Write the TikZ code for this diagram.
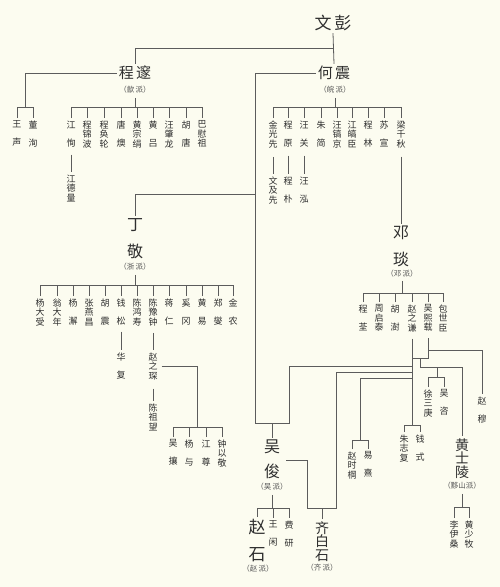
\documentclass[tikz,border=0pt]{standalone}
\usepackage{fontspec}
\newfontfamily\cjk{Noto Sans CJK SC}
\definecolor{bgc}{HTML}{FCFCF0}
\definecolor{linec}{HTML}{5C5C5C}
\definecolor{txtc}{HTML}{2E2E2E}
\definecolor{paic}{HTML}{555555}
\newcommand\vtw[2]{#1\\[8.5pt]#2}
\newcommand\vth[3]{#1\\#2\\#3}
\tikzset{
  ln/.style={draw=linec,line width=0.8pt},
  sm/.style={font=\cjk\fontsize{9}{9.5}\selectfont,text=txtc,align=center,inner xsep=0pt,inner ysep=2.5pt,anchor=north},
  mid/.style={font=\cjk\fontsize{15}{15}\selectfont,text=txtc,inner sep=2pt},
  big/.style={font=\cjk\fontsize{17}{17}\selectfont,text=txtc,inner sep=2pt},
  vbig/.style={font=\cjk\fontsize{16}{27}\selectfont,text=txtc,align=center,inner sep=2pt},
  vbigb/.style={font=\cjk\fontsize{16}{25}\selectfont,text=txtc,align=center,inner sep=2pt},
  vmid/.style={font=\cjk\fontsize{14}{13.5}\selectfont,text=txtc,align=center,inner sep=2pt},
  pai/.style={font=\cjk\fontsize{7.5}{7.5}\selectfont,text=paic,inner sep=1pt},
}
\begin{document}
\lineskiplimit=-20pt
\lineskip=0pt
\begin{tikzpicture}[x=1pt,y=-1pt]
\fill[bgc] (0,0) rectangle (500,587);
\useasboundingbox (0,0) rectangle (500,587);

% ---------- top ----------
\node[big] (wp) at (333,23) {文\,彭};
\node[mid] (cs) at (135,73) {程\,邃};
\node[mid] (hz) at (334,73) {何\,震};
\node[pai] (csp) at (135,90) {（歙\,派）};
\node[pai] (hzp) at (335,90) {（皖\,派）};
\coordinate (j0) at (334,48);
\coordinate (cbar) at (0,107);
\draw[ln] (wp.south) -- (hz.north);
\draw[ln] (j0) -| (cs.north);

% 程邃 left pair
\node[sm] (wangs) at (17,118) {\vtw{王}{声}};
\node[sm] (dongx) at (33,118) {\vtw{董}{洵}};
\draw[ln] (cs.west) -| (25,107);
\draw[ln] (wangs.north) |- (dongx.north |- cbar) -- (dongx.north);

% 程邃 right row
\foreach \xx/\nm/\tx in {71/jxun/{\vtw{江}{恂}},87/cjb/{\vth{程}{锦}{波}},104/chl/{\vth{程}{奂}{轮}},121/tangy/{\vtw{唐}{燠}},137/hzj/{\vth{黄}{宗}{绢}},153/hlv/{\vtw{黄}{吕}},169/wzl/{\vth{汪}{肇}{龙}},186/htang/{\vtw{胡}{唐}},202/bwz/{\vth{巴}{慰}{祖}}}{
  \node[sm] (\nm) at (\xx,118) {\tx};
  \draw[ln] (\nm.north) -- (\nm.north |- cbar);
}
\draw[ln] (jxun.north |- cbar) -- (bwz.north |- cbar);
\draw[ln] ([yshift=-3pt]csp.south) -- (csp.south |- cbar);
\node[sm] (jdl) at (71,172) {\vth{江}{德}{量}};
\draw[ln] ([yshift=-5pt]jxun.south) -- (jdl.north);

% 何震 row
\foreach \xx/\nm/\tx in {273/jgx/{\vth{金}{光}{先}},288/cyuan/{\vtw{程}{原}},304/wguan/{\vtw{汪}{关}},321/zjian/{\vtw{朱}{简}},337/whj/{\vth{汪}{镐}{京}},352/jhc/{\vth{江}{皜}{臣}},368/clin/{\vtw{程}{林}},384/sxuan/{\vtw{苏}{宣}},401/lqq/{\vth{梁}{千}{秋}}}{
  \node[sm] (\nm) at (\xx,118) {\tx};
  \draw[ln] (\nm.north) -- (\nm.north |- cbar);
}
\draw[ln] (jgx.north |- cbar) -- (lqq.north |- cbar);
\draw[ln] ([yshift=-3pt]hzp.south) -- (hzp.south |- cbar);
\node[sm] (wjx) at (273,174) {\vth{文}{及}{先}};
\node[sm] (cpu) at (288,174) {\vtw{程}{朴}};
\node[sm] (whong) at (304,174) {\vtw{汪}{泓}};
\draw[ln] ([yshift=-6pt]jgx.south) -- (wjx.north);
\draw[ln] ([yshift=-6pt]cyuan.south) -- (cpu.north);
\draw[ln] ([yshift=-6pt]wguan.south) -- (whong.north);

% ---------- 丁敬 ----------
\coordinate (dj0) at (255,194);
\coordinate (hzd) at (255,423);
\node[vbig] (dj) at (135,238.5) {丁\\敬};
\node[pai] (djp) at (135,267) {（浙\,派）};
\draw[ln] (hz.west) -| (hzd);
\draw[ln] (dj0) -| (dj.north);
\coordinate (dbar) at (0,285);
\draw[ln] ([yshift=-3pt]djp.south) -- (djp.south |- dbar);
\foreach \xx/\nm/\tx in {40/ydsh/{\vth{杨}{大}{受}},57/wdn/{\vth{翁}{大}{年}},73/yxie/{\vtw{杨}{澥}},89/zyc/{\vth{张}{燕}{昌}},105/hzhen/{\vtw{胡}{震}},121/qsong/{\vtw{钱}{松}},137/chs/{\vth{陈}{鸿}{寿}},153/cyz/{\vth{陈}{豫}{钟}},169/jren/{\vtw{蒋}{仁}},186/xgang/{\vtw{奚}{冈}},202/hyi/{\vtw{黄}{易}},218/zxie/{\vtw{郑}{燮}},233/jnong/{\vtw{金}{农}}}{
  \node[sm] (\nm) at (\xx,296) {\tx};
  \draw[ln] (\nm.north) -- (\nm.north |- dbar);
}
\draw[ln] (ydsh.north |- dbar) -- (jnong.north |- dbar);
\node[sm] (hfu) at (121,350) {\vtw{华}{复}};
\draw[ln] ([yshift=-4pt]qsong.south) -- (hfu.north);
\node[sm] (zzc) at (153,350) {\vth{赵}{之}{琛}};
\draw[ln] ([yshift=-4pt]cyz.south) -- (zzc.north);
\node[sm] (czw) at (153,401) {\vth{陈}{祖}{望}};
\draw[ln] ([yshift=-6pt]zzc.south) -- (czw.north);
\coordinate (zcbar) at (0,427);
\foreach \xx/\nm/\tx in {173/wrang/{\vtw{吴}{攘}},189/yyu/{\vtw{杨}{与}},206/jzun/{\vtw{江}{尊}},222/zyj/{\vth{钟}{以}{敬}}}{
  \node[sm] (\nm) at (\xx,437) {\tx};
  \draw[ln] (\nm.north) -- (\nm.north |- zcbar);
}
\draw[ln] (wrang.north |- zcbar) -- (zyj.north |- zcbar);
\draw[ln] ([xshift=4pt]zzc.east) -| (197,427);

% ---------- 邓琰 ----------
\node[vbig] (dy) at (401,246.5) {邓\\琰};
\node[pai] (dyp) at (402,274) {（邓\,派）};
\draw[ln] ([yshift=-6pt]lqq.south) -- (dy.north);
\coordinate (ybar) at (0,293);
\draw[ln] ([yshift=-2pt]dyp.south) -- (dyp.south |- ybar);
\foreach \xx/\nm/\tx in {363/cquan/{\vtw{程}{荃}},379/zqt/{\vth{周}{启}{泰}},395/hshu/{\vtw{胡}{澍}},412/zzq/{\vth{赵}{之}{谦}},428/wxz/{\vth{吴}{熙}{载}},443/bsc/{\vth{包}{世}{臣}}}{
  \node[sm] (\nm) at (\xx,302) {\tx};
  \draw[ln] (\nm.north) -- (\nm.north |- ybar);
}
\draw[ln] (cquan.north |- ybar) -- (bsc.north |- ybar);

% 赵之谦 trunk
\coordinate (zbar2) at (0,425);
\draw[ln] ([yshift=-4pt]zzq.south) -- (zzq.south |- zbar2);
\node[sm] (zzf) at (404,432) {\vth{朱}{志}{复}};
\node[sm] (qshi) at (420,432) {\vtw{钱}{式}};
\draw[ln] (zzf.north) |- (qshi.north |- zbar2) -- (qshi.north);

% 吴熙载 -> 赵穆 ; junction
\node[sm] (zmu) at (482,394) {\vtw{赵}{穆}};
\draw[ln] ([yshift=-4pt]wxz.south) -- (428,358) -- (412,358);
\draw[ln] (428,350) -| (zmu.north);

% -> 黄士陵, 徐三庚, 吴咨
\node[vmid] (hsl) at (462,458.5) {黄\\士\\陵};
\node[pai] (hslp) at (462,486) {（黟山派）};
\draw[ln] (420,358) -- (420,367) -| (hsl.north);
\coordinate (xbar) at (0,377);
\node[sm] (xsg) at (428,387) {\vth{徐}{三}{庚}};
\node[sm] (wzi) at (444,387) {\vtw{吴}{咨}};
\draw[ln] (437,367) -- (437,377);
\draw[ln] (xsg.north) |- (wzi.north |- xbar) -- (wzi.north);
\coordinate (hbar) at (0,507);
\node[sm] (lys) at (454,518) {\vth{李}{伊}{桑}};
\node[sm] (hsm) at (469,518) {\vth{黄}{少}{牧}};
\draw[ln] ([yshift=-3pt]hslp.south) -- (hslp.south |- hbar);
\draw[ln] (lys.north) |- (hsm.north |- hbar) -- (hsm.north);

% ---------- 吴俊 ----------
\node[vbigb] (wj) at (272,459.5) {吴\\俊};
\node[pai] (wjp) at (272,487) {（吴\,派）};
\draw[ln] (hzd) -- (289,423) |- (412,366);
\draw[ln] (272,423) -- (wj.north);
\coordinate (wbar) at (0,508);
\draw[ln] ([yshift=-3pt]wjp.south) -- (wjp.south |- wbar);
\node[vbig,font=\cjk\fontsize{17}{27}\selectfont,anchor=north] (zshi) at (257,517) {赵\\石};
\node[pai] (zship) at (258,569) {（赵\,派）};
\node[sm] (wxian) at (273,518) {\vtw{王}{闲}};
\node[sm] (fyan) at (289,518) {\vtw{费}{研}};
\draw[ln] (zshi.north) |- (fyan.north |- wbar) -- (fyan.north);
\draw[ln] (wxian.north) -- (wxian.north |- wbar);

% ---------- 齐白石 ----------
\node[vmid,anchor=north] (qbs) at (322,519) {齐\\白\\石};
\node[pai] (qbsp) at (322,568) {（齐\,派）};
\coordinate (wjr) at (286,460);
\draw[ln] (412,372) -| (336,508) -- (307,508) |- (wjr);
\draw[ln] (qbs.north) -- (322,508);

% 赵时棡, 易熹
\coordinate (sbar) at (0,440);
\draw[ln] (412,378) -| (360,440);
\node[sm] (zsg) at (352,449) {\vth{赵}{时}{棡}};
\node[sm] (yxi) at (368,449) {\vtw{易}{熹}};
\draw[ln] (zsg.north) |- (yxi.north |- sbar) -- (yxi.north);
\end{tikzpicture}
\end{document}
